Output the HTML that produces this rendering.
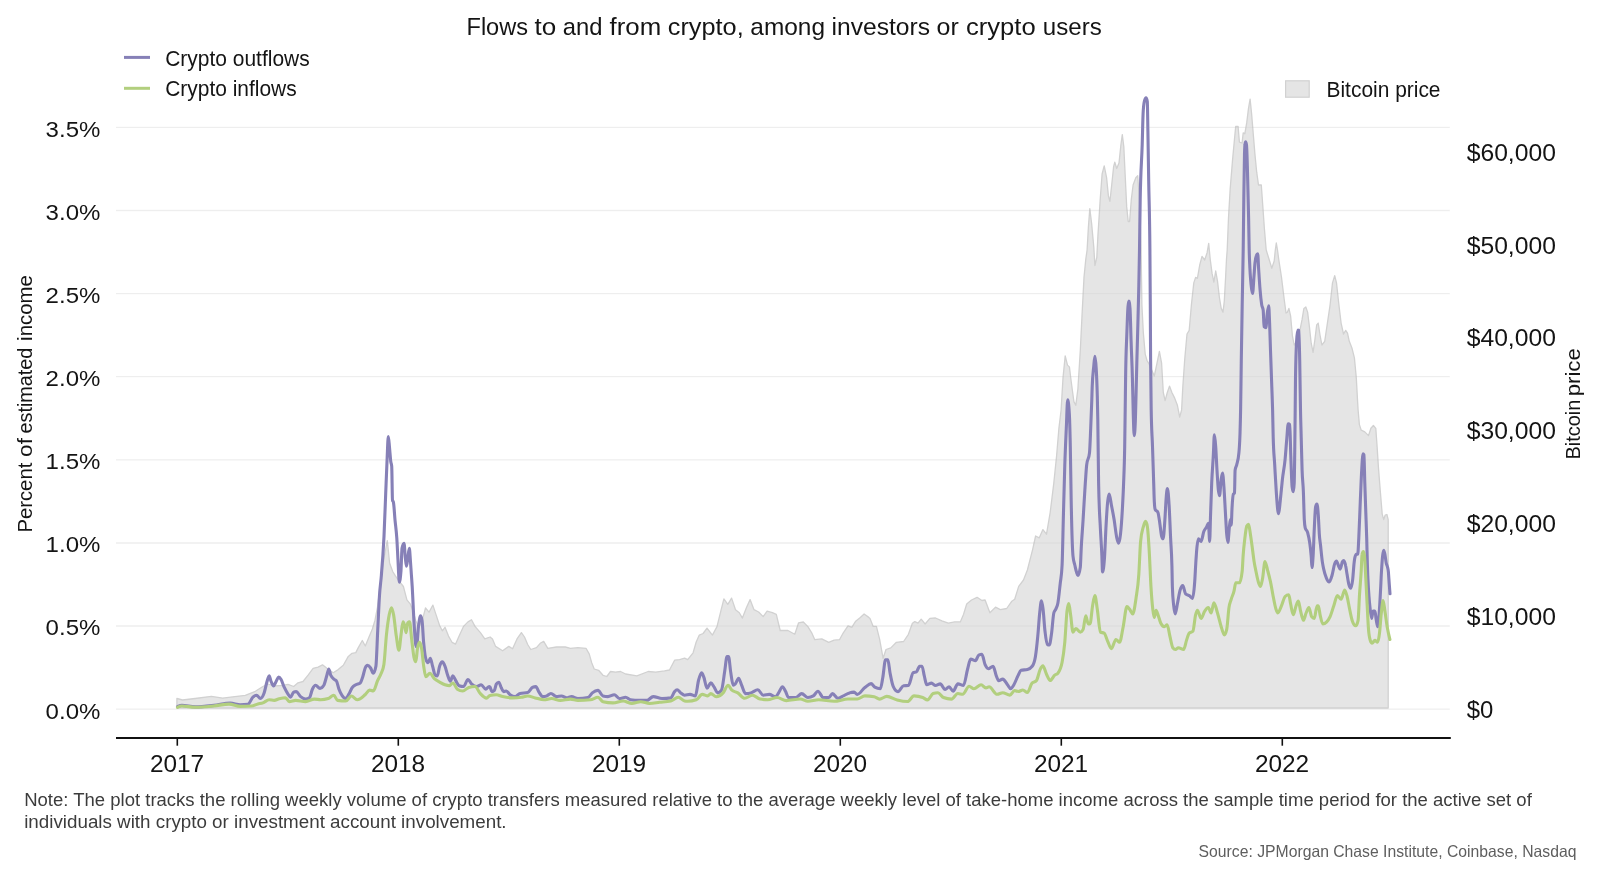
<!DOCTYPE html>
<html lang="en"><head><meta charset="utf-8"><title>Flows to and from crypto</title>
<style>html,body{margin:0;padding:0;background:#fff;}body{width:1600px;height:876px;overflow:hidden;}svg{display:block;}text{font-family:"Liberation Sans",sans-serif;}</style></head><body>
<svg width="1600" height="876" viewBox="0 0 1600 876">
<rect width="1600" height="876" fill="#ffffff"/>
<g stroke="#f5f5f5" stroke-width="1.3">
<line x1="116" y1="127.4" x2="1449.8" y2="127.4"/>
<line x1="116" y1="210.5" x2="1449.8" y2="210.5"/>
<line x1="116" y1="293.6" x2="1449.8" y2="293.6"/>
<line x1="116" y1="376.7" x2="1449.8" y2="376.7"/>
<line x1="116" y1="459.8" x2="1449.8" y2="459.8"/>
<line x1="116" y1="543.0" x2="1449.8" y2="543.0"/>
<line x1="116" y1="626.0" x2="1449.8" y2="626.0"/>
<line x1="116" y1="709.2" x2="1449.8" y2="709.2"/>
</g>
<path d="M176.9,698.5 L182.6,700.0 L195.1,698.5 L211.4,696.3 L222.7,698.1 L232.8,696.8 L245.3,695.3 L255.4,691.3 L262.9,686.5 L268.0,684.0 L274.0,686.0 L283.0,685.3 L288.0,684.3 L293.7,686.5 L298.0,682.8 L303.0,681.5 L308.1,675.2 L313.1,668.3 L318.1,667.1 L322.5,664.8 L326.9,668.3 L333.2,672.7 L338.2,669.6 L343.3,665.2 L348.3,656.4 L352.0,653.3 L355.8,652.6 L358.3,647.6 L362.3,640.5 L365.3,646.0 L369.0,637.0 L372.4,629.0 L375.0,620.2 L377.5,607.0 L380.8,581.0 L384.2,557.0 L387.3,540.6 L388.5,552.0 L389.6,563.0 L392.7,571.5 L395.4,575.9 L399.0,581.0 L403.4,586.5 L406.9,599.8 L410.4,604.2 L413.1,611.3 L415.8,621.0 L419.0,627.0 L422.8,618.4 L425.5,607.8 L429.0,612.2 L432.9,605.1 L436.1,614.9 L439.6,625.5 L442.3,630.8 L445.0,627.3 L448.5,636.1 L452.0,642.3 L455.6,644.1 L459.1,636.1 L463.5,626.4 L468.0,621.9 L471.5,619.8 L475.0,626.4 L480.4,632.6 L484.8,638.8 L490.1,637.0 L492.5,638.9 L495.6,646.4 L502.6,650.8 L508.8,646.4 L512.6,648.7 L517.0,638.9 L521.4,632.6 L524.5,637.0 L527.7,644.5 L530.8,649.5 L536.5,647.7 L540.2,643.3 L543.7,641.4 L547.8,648.3 L556.5,647.0 L565.3,647.0 L570.4,648.3 L577.9,647.7 L586.0,648.3 L589.2,653.9 L591.7,662.7 L594.2,669.0 L598.6,670.3 L603.0,675.3 L606.8,676.5 L610.5,671.5 L615.5,672.1 L620.6,671.5 L625.6,674.0 L636.9,675.9 L648.2,671.5 L655.7,672.1 L664.5,670.9 L669.5,670.0 L674.6,660.2 L679.6,659.6 L684.6,658.2 L687.7,659.7 L693.1,652.8 L696.2,642.0 L699.3,635.1 L703.1,633.5 L707.0,628.1 L712.4,635.1 L717.0,626.6 L720.8,611.2 L723.9,598.9 L727.8,604.3 L731.6,598.1 L735.5,609.7 L739.3,612.7 L742.4,618.1 L746.3,608.1 L750.1,599.6 L754.0,609.7 L758.6,612.0 L763.2,616.6 L767.1,611.2 L772.4,612.7 L776.3,614.3 L780.2,630.5 L787.9,630.5 L794.8,634.3 L798.6,622.8 L803.3,622.0 L807.9,626.6 L811.7,632.8 L814.8,639.7 L821.8,638.9 L828.7,642.3 L834.1,640.2 L839.5,639.7 L843.3,632.8 L848.0,625.8 L851.8,627.4 L855.7,621.2 L860.3,617.4 L864.1,614.0 L868.8,617.4 L870.0,618.4 L873.2,626.4 L876.4,626.4 L879.6,639.1 L883.1,658.3 L886.0,649.5 L890.8,647.9 L896.4,642.3 L903.6,641.5 L908.4,634.3 L912.4,623.2 L914.8,621.6 L918.0,623.2 L921.2,619.2 L925.1,624.0 L929.9,618.4 L935.5,618.0 L941.9,620.8 L948.3,623.2 L954.7,621.9 L960.3,621.9 L963.5,614.4 L966.7,604.0 L971.5,600.0 L977.1,597.3 L981.9,600.5 L985.1,600.0 L989.9,612.8 L995.5,607.2 L1000.3,609.6 L1006.7,608.5 L1011.5,601.6 L1014.7,599.2 L1018.7,586.4 L1023.5,580.0 L1027.4,570.0 L1032.8,548.8 L1035.6,536.0 L1039.2,537.9 L1042.9,529.6 L1046.5,534.2 L1050.2,512.3 L1053.8,483.1 L1056.6,455.7 L1058.9,428.3 L1061.1,410.0 L1063.0,377.9 L1065.2,355.9 L1067.5,365.1 L1069.4,366.9 L1071.2,381.5 L1073.9,401.6 L1075.8,405.3 L1077.9,388.8 L1080.3,350.5 L1082.1,313.9 L1084.0,277.4 L1085.8,259.1 L1087.1,250.0 L1088.4,227.0 L1089.8,208.7 L1091.6,223.3 L1093.8,247.1 L1094.9,265.5 L1096.8,257.3 L1097.9,236.1 L1100.2,199.6 L1102.1,174.0 L1104.2,165.8 L1106.6,177.7 L1108.4,195.9 L1109.9,201.4 L1111.7,185.0 L1113.6,166.7 L1114.8,162.1 L1116.7,168.5 L1119.0,163.1 L1120.9,144.8 L1122.3,134.7 L1123.8,146.6 L1125.3,177.7 L1126.7,206.9 L1128.2,221.5 L1129.6,221.5 L1131.3,199.6 L1133.1,185.0 L1135.8,177.7 L1137.7,175.8 L1139.5,200.0 L1141.1,250.0 L1141.9,304.8 L1143.3,332.2 L1145.2,354.1 L1147.0,360.5 L1149.2,364.2 L1154.3,376.0 L1157.0,363.2 L1159.4,351.4 L1161.6,363.2 L1163.3,392.5 L1165.1,400.7 L1167.3,392.5 L1169.5,386.1 L1171.9,392.5 L1174.6,397.9 L1177.4,405.3 L1179.7,417.0 L1181.6,410.0 L1182.8,387.0 L1184.7,359.6 L1187.0,334.0 L1189.2,330.4 L1191.4,304.8 L1193.8,282.9 L1195.6,277.4 L1197.4,278.3 L1199.8,264.6 L1202.0,256.4 L1204.7,260.0 L1207.1,252.7 L1208.7,243.4 L1210.2,259.1 L1212.1,273.7 L1213.9,282.0 L1215.7,271.0 L1217.5,281.1 L1219.4,297.5 L1221.2,308.4 L1223.0,312.1 L1224.3,301.1 L1225.6,277.4 L1226.5,259.0 L1227.2,250.0 L1228.5,217.9 L1230.2,188.6 L1232.6,159.4 L1234.8,135.7 L1235.7,126.5 L1238.1,126.5 L1239.4,142.1 L1242.1,143.0 L1243.2,132.9 L1244.8,133.8 L1246.7,122.9 L1248.5,108.3 L1250.1,99.1 L1251.6,113.7 L1253.1,132.0 L1254.9,153.9 L1256.7,172.2 L1258.5,185.0 L1261.3,185.0 L1262.6,203.2 L1264.4,228.8 L1266.2,250.0 L1269.6,261.0 L1271.8,268.3 L1274.2,261.0 L1275.3,250.0 L1276.3,243.0 L1277.5,250.0 L1278.7,259.1 L1281.5,277.4 L1284.2,299.3 L1286.0,313.0 L1287.5,312.1 L1288.9,308.4 L1290.6,315.8 L1292.4,335.8 L1294.2,345.0 L1298.0,340.0 L1302.1,319.4 L1303.9,308.4 L1305.8,307.0 L1307.6,312.1 L1309.4,326.7 L1311.2,343.2 L1313.1,352.3 L1314.9,339.5 L1316.7,324.9 L1318.2,323.1 L1320.0,335.0 L1321.9,345.0 L1324.7,341.3 L1327.4,323.1 L1330.1,304.8 L1332.5,282.9 L1334.7,275.6 L1336.5,282.9 L1338.7,303.0 L1341.1,323.1 L1343.5,334.0 L1345.7,330.4 L1347.5,333.1 L1349.3,341.3 L1352.1,348.6 L1354.4,357.8 L1356.3,377.9 L1357.5,399.8 L1358.1,410.0 L1359.4,424.6 L1361.2,430.1 L1364.8,431.9 L1368.5,435.6 L1370.9,428.3 L1373.4,425.5 L1375.8,428.3 L1377.1,446.5 L1378.5,468.4 L1380.4,492.2 L1382.2,514.1 L1383.7,519.6 L1385.2,515.0 L1386.9,514.5 L1388.2,519.6 L1388.2,708.0 L176.9,708.0 Z" fill="#e5e5e5" stroke="#d1d1d1" stroke-width="1.3" stroke-linejoin="round"/>
<g stroke="#000" stroke-opacity="0.028" stroke-width="1.3">
<line x1="116" y1="127.4" x2="1449.8" y2="127.4"/>
<line x1="116" y1="210.5" x2="1449.8" y2="210.5"/>
<line x1="116" y1="293.6" x2="1449.8" y2="293.6"/>
<line x1="116" y1="376.7" x2="1449.8" y2="376.7"/>
<line x1="116" y1="459.8" x2="1449.8" y2="459.8"/>
<line x1="116" y1="543.0" x2="1449.8" y2="543.0"/>
<line x1="116" y1="626.0" x2="1449.8" y2="626.0"/>
<line x1="116" y1="709.2" x2="1449.8" y2="709.2"/>
</g>
<path d="M177.5,706.6 C179.0,706.0 180.4,705.4 181.9,705.4 C186.3,705.4 190.7,706.9 195.1,706.9 C201.4,706.9 207.6,706.1 213.9,705.4 C219.4,704.8 224.8,703.1 230.3,703.1 C233.6,703.1 237.0,704.7 240.3,704.7 C242.8,704.7 245.3,704.6 247.8,704.4 C249.5,704.3 251.2,698.7 252.9,697.2 C254.1,696.1 255.4,695.3 256.6,695.3 C257.9,695.3 259.1,698.5 260.4,698.5 C261.7,698.5 262.9,696.6 264.2,692.8 C265.0,690.3 265.9,685.6 266.7,682.8 C267.5,680.0 268.4,675.9 269.2,675.9 C269.8,675.9 270.5,680.0 271.1,681.5 C271.9,683.5 272.8,685.9 273.6,685.9 C274.4,685.9 275.3,683.0 276.1,681.5 C276.9,680.0 277.8,677.1 278.6,677.1 C279.4,677.1 280.3,678.2 281.1,679.6 C282.1,681.3 283.2,685.0 284.2,687.2 C285.5,689.9 286.7,692.2 288.0,694.1 C288.8,695.3 289.7,697.2 290.5,697.2 C291.6,697.2 292.6,692.7 293.7,692.2 C294.5,691.8 295.4,691.6 296.2,691.6 C297.7,691.6 299.1,695.4 300.6,696.6 C302.3,698.0 303.9,699.1 305.6,699.1 C306.9,699.1 308.1,698.7 309.4,697.8 C310.4,697.1 311.5,691.1 312.5,689.0 C313.5,686.9 314.6,685.3 315.6,685.3 C317.1,685.3 318.5,688.4 320.0,688.4 C321.3,688.4 322.5,687.4 323.8,685.3 C324.8,683.6 325.9,678.6 326.9,675.2 C327.5,673.1 328.2,669.0 328.8,669.0 C329.4,669.0 330.1,673.7 330.7,675.2 C332.0,678.1 333.2,678.5 334.5,679.6 C335.1,680.1 335.8,680.0 336.4,680.9 C337.2,682.0 338.1,686.7 338.9,689.0 C339.9,691.8 341.0,693.8 342.0,695.3 C343.3,697.2 344.5,698.5 345.8,698.5 C346.8,698.5 347.9,695.9 348.9,694.1 C349.9,692.3 351.0,689.3 352.0,687.8 C353.3,685.9 354.5,685.5 355.8,684.7 C357.3,683.8 358.7,684.1 360.2,683.0 C361.0,682.4 361.9,679.5 362.7,677.0 C363.5,674.5 364.4,670.0 365.2,668.0 C365.9,666.3 366.7,665.2 367.4,665.2 C368.5,665.2 369.5,666.4 370.6,668.0 C371.5,669.3 372.4,673.3 373.3,673.3 C374.2,673.3 375.0,670.9 375.9,666.2 C376.5,662.9 377.1,642.6 377.7,630.8 C378.3,619.0 378.9,604.6 379.5,595.4 C380.1,585.7 380.8,582.9 381.4,575.0 C382.3,564.2 383.1,554.6 384.0,536.3 C384.6,524.3 385.1,507.6 385.7,493.5 C386.2,481.9 386.6,469.2 387.1,459.2 C387.5,450.6 387.9,436.6 388.3,436.6 C388.7,436.6 389.1,443.3 389.5,447.3 C389.9,451.6 390.4,458.6 390.8,461.8 C391.1,464.0 391.4,463.2 391.7,466.1 C392.0,468.6 392.2,499.2 392.5,500.3 C392.8,501.5 393.1,500.9 393.4,502.1 C394.0,504.4 394.5,514.9 395.1,520.9 C395.7,526.9 396.2,529.5 396.8,538.0 C397.2,544.0 397.6,553.2 398.0,560.3 C398.4,568.0 398.9,582.1 399.3,582.1 C399.9,582.1 400.4,578.3 401.0,570.6 C401.3,566.1 401.7,550.0 402.0,548.3 C402.7,544.9 403.3,543.2 404.0,543.2 C404.5,543.2 404.9,554.5 405.4,558.6 C405.8,561.8 406.1,566.3 406.5,566.3 C407.0,566.3 407.5,560.0 408.0,556.8 C408.4,554.0 408.9,548.3 409.3,548.3 C409.7,548.3 410.1,556.7 410.5,562.0 C410.8,565.9 411.1,570.7 411.4,575.0 C411.7,578.8 411.9,582.2 412.2,586.5 C412.8,596.1 413.4,612.2 414.0,622.0 C414.6,631.8 415.2,642.4 415.8,645.0 C416.1,646.1 416.3,646.7 416.6,646.7 C417.2,646.7 417.8,632.3 418.4,627.3 C419.1,621.5 419.8,615.8 420.5,615.8 C421.0,615.8 421.5,617.3 422.0,620.2 C422.6,623.5 423.1,637.1 423.7,643.2 C424.6,653.0 425.5,659.0 426.4,660.9 C427.0,662.1 427.5,662.7 428.1,662.7 C428.8,662.7 429.6,658.2 430.3,658.2 C431.1,658.2 431.8,663.6 432.6,666.2 C433.5,669.2 434.3,674.3 435.2,675.0 C435.9,675.6 436.6,675.9 437.3,675.9 C438.1,675.9 438.8,668.5 439.6,666.2 C440.5,663.5 441.4,661.8 442.3,661.8 C443.2,661.8 444.1,663.9 445.0,666.2 C445.9,668.4 446.7,672.5 447.6,675.0 C448.5,677.6 449.4,681.2 450.3,681.2 C451.2,681.2 452.0,675.9 452.9,675.9 C453.8,675.9 454.7,679.0 455.6,680.4 C456.8,682.3 457.9,685.3 459.1,685.7 C460.6,686.2 462.0,686.5 463.5,686.5 C465.0,686.5 466.5,679.5 468.0,679.5 C469.2,679.5 470.3,682.8 471.5,683.9 C473.3,685.6 475.0,686.5 476.8,686.5 C478.3,686.5 479.7,684.8 481.2,684.8 C482.7,684.8 484.2,689.2 485.7,689.2 C486.9,689.2 488.0,686.5 489.2,686.5 C489.5,686.5 489.7,686.7 490.0,687.0 C490.6,687.7 491.3,691.6 491.9,691.6 C492.7,691.6 493.6,691.2 494.4,690.4 C495.0,689.8 495.7,685.1 496.3,684.1 C497.1,682.8 498.0,682.2 498.8,682.2 C499.6,682.2 500.5,686.2 501.3,687.8 C502.1,689.4 503.0,691.6 503.8,691.6 C504.6,691.6 505.5,691.0 506.3,691.0 C507.6,691.0 508.8,693.8 510.1,694.7 C511.8,695.9 513.4,696.6 515.1,696.6 C516.8,696.6 518.4,693.9 520.1,693.5 C522.6,692.9 525.2,693.2 527.7,692.6 C529.4,692.2 531.0,687.8 532.7,687.2 C533.7,686.8 534.8,686.6 535.8,686.6 C536.9,686.6 537.9,690.6 539.0,692.2 C540.2,694.0 541.5,696.6 542.7,696.6 C544.0,696.6 545.2,696.4 546.5,696.0 C548.0,695.5 549.4,693.5 550.9,693.5 C552.8,693.5 554.6,696.6 556.5,696.6 C558.2,696.6 559.9,696.0 561.6,696.0 C563.3,696.0 564.9,697.9 566.6,697.9 C568.3,697.9 569.9,696.6 571.6,696.6 C573.7,696.6 575.8,698.5 577.9,698.5 C581.2,698.5 584.6,698.2 587.9,697.6 C589.4,697.3 590.8,694.1 592.3,692.9 C594.2,691.4 596.1,690.4 598.0,690.4 C599.7,690.4 601.3,695.6 603.0,696.0 C604.7,696.4 606.3,696.6 608.0,696.6 C610.1,696.6 612.2,694.7 614.3,694.7 C616.0,694.7 617.6,698.5 619.3,698.5 C621.4,698.5 623.5,697.3 625.6,697.3 C627.3,697.3 628.9,699.6 630.6,699.8 C633.5,700.2 636.5,700.4 639.4,700.4 C641.9,700.4 644.4,700.4 646.9,700.4 C649.0,700.4 651.1,696.6 653.2,696.6 C656.1,696.6 659.1,698.5 662.0,698.5 C664.9,698.5 667.9,698.3 670.8,697.9 C672.1,697.7 673.3,693.0 674.6,691.6 C675.4,690.7 676.3,689.7 677.1,689.7 C678.3,689.7 679.6,692.0 680.8,692.9 C682.1,693.8 683.3,695.2 684.6,695.2 C686.4,695.2 688.2,694.4 690.0,694.4 C691.8,694.4 693.6,695.9 695.4,695.9 C696.4,695.9 697.5,684.4 698.5,680.5 C699.5,676.6 700.6,672.8 701.6,672.8 C702.4,672.8 703.1,675.4 703.9,677.4 C704.9,680.1 706.0,688.2 707.0,688.2 C708.3,688.2 709.5,682.8 710.8,682.8 C711.8,682.8 712.9,685.2 713.9,686.7 C715.2,688.5 716.5,692.9 717.8,692.9 C719.1,692.9 720.3,691.9 721.6,689.8 C722.6,688.1 723.7,677.7 724.7,671.3 C725.5,666.5 726.2,656.6 727.0,656.6 C727.5,656.6 728.0,656.6 728.5,656.6 C729.3,656.6 730.0,668.1 730.8,672.8 C731.6,677.7 732.4,685.2 733.2,685.2 C734.0,685.2 734.7,684.5 735.5,683.6 C736.5,682.4 737.6,678.2 738.6,678.2 C739.6,678.2 740.6,682.9 741.6,685.2 C742.9,688.1 744.2,693.6 745.5,693.6 C747.3,693.6 749.1,693.4 750.9,692.9 C753.2,692.3 755.5,689.8 757.8,689.8 C759.6,689.8 761.4,695.2 763.2,695.2 C765.3,695.2 767.3,694.4 769.4,694.4 C771.4,694.4 773.5,696.7 775.5,696.7 C776.5,696.7 777.6,694.3 778.6,692.9 C779.9,691.1 781.2,686.7 782.5,686.7 C783.5,686.7 784.5,689.5 785.5,691.3 C786.5,693.1 787.6,697.5 788.6,697.5 C790.9,697.5 793.3,697.5 795.6,697.5 C797.6,697.5 799.7,693.6 801.7,693.6 C803.8,693.6 805.8,697.5 807.9,697.5 C809.7,697.5 811.5,697.0 813.3,695.9 C814.8,695.0 816.4,691.3 817.9,691.3 C819.7,691.3 821.5,697.5 823.3,697.5 C825.1,697.5 826.9,697.5 828.7,697.5 C830.0,697.5 831.2,693.6 832.5,693.6 C834.3,693.6 836.1,698.3 837.9,698.3 C839.7,698.3 841.5,696.7 843.3,695.9 C845.4,694.9 847.4,693.5 849.5,692.9 C851.0,692.4 852.6,692.1 854.1,692.1 C855.1,692.1 856.2,694.4 857.2,694.4 C859.8,694.4 862.3,689.4 864.9,687.5 C867.0,686.0 869.0,683.6 871.1,683.6 C872.3,683.6 873.6,686.4 874.8,687.1 C876.7,688.2 878.5,688.7 880.4,688.7 C881.2,688.7 882.0,681.9 882.8,677.5 C883.7,672.5 884.6,659.9 885.5,659.9 C886.3,659.9 887.1,659.9 887.9,659.9 C888.6,659.9 889.3,668.9 890.0,672.7 C891.1,678.4 892.1,683.9 893.2,686.3 C894.8,689.8 896.4,691.6 898.0,691.6 C899.9,691.6 901.7,686.0 903.6,685.8 C905.2,685.6 906.8,685.7 908.4,685.5 C910.0,685.3 911.6,673.5 913.2,672.7 C914.3,672.2 915.3,672.4 916.4,671.9 C917.5,671.4 918.5,666.3 919.6,666.3 C920.4,666.3 921.2,666.3 922.0,666.3 C922.8,666.3 923.5,672.9 924.3,675.9 C925.1,679.0 925.9,684.7 926.7,684.7 C928.3,684.7 929.9,683.1 931.5,683.1 C932.8,683.1 934.2,685.5 935.5,685.5 C937.1,685.5 938.7,683.9 940.3,683.9 C941.9,683.9 943.5,689.5 945.1,689.5 C946.4,689.5 947.8,686.8 949.1,686.8 C950.4,686.8 951.8,691.1 953.1,691.1 C954.7,691.1 956.3,683.9 957.9,683.9 C959.8,683.9 961.6,685.5 963.5,685.5 C964.8,685.5 966.2,674.3 967.5,669.5 C968.6,665.7 969.6,659.1 970.7,659.1 C972.3,659.1 973.9,660.7 975.5,660.7 C976.6,660.7 977.6,655.6 978.7,655.1 C979.8,654.6 980.8,654.3 981.9,654.3 C983.0,654.3 984.0,662.3 985.1,664.7 C986.2,667.1 987.2,668.7 988.3,668.7 C989.9,668.7 991.5,666.3 993.1,666.3 C994.2,666.3 995.2,673.3 996.3,675.9 C997.1,677.8 997.9,680.7 998.7,680.7 C1000.0,680.7 1001.4,679.1 1002.7,679.1 C1004.3,679.1 1005.9,682.8 1007.5,684.7 C1008.6,686.0 1009.6,688.7 1010.7,688.7 C1011.8,688.7 1012.8,686.5 1013.9,684.7 C1015.2,682.5 1016.6,678.5 1017.9,675.9 C1019.0,673.8 1020.0,670.6 1021.1,670.3 C1023.2,669.8 1025.3,670.0 1027.4,669.5 C1029.0,669.1 1030.6,668.4 1032.2,666.3 C1033.3,664.9 1034.3,663.1 1035.4,656.7 C1036.2,651.9 1037.0,644.3 1037.8,635.9 C1038.5,628.9 1039.1,618.1 1039.8,612.0 C1040.3,607.1 1040.9,600.8 1041.4,600.8 C1041.9,600.8 1042.5,604.7 1043.0,608.8 C1043.7,614.0 1044.3,625.4 1045.0,631.2 C1045.8,638.1 1046.6,644.5 1047.4,644.7 C1048.0,644.8 1048.7,644.9 1049.3,644.9 C1050.1,644.9 1050.8,638.6 1051.6,633.1 C1052.3,627.8 1053.1,615.9 1053.8,613.0 C1054.4,610.5 1055.1,610.8 1055.7,609.3 C1056.4,607.5 1057.2,607.0 1057.9,602.9 C1058.7,598.6 1059.4,590.7 1060.2,583.7 C1060.8,577.9 1061.5,577.5 1062.1,565.0 C1062.5,557.1 1062.9,534.5 1063.3,519.6 C1063.8,501.0 1064.3,480.0 1064.8,464.8 C1065.3,449.6 1065.8,439.4 1066.3,428.3 C1066.8,417.9 1067.2,399.8 1067.7,399.8 C1068.3,399.8 1068.8,404.9 1069.4,415.0 C1069.7,420.4 1070.0,432.1 1070.3,446.5 C1070.6,460.9 1070.9,486.1 1071.2,501.3 C1071.8,531.7 1072.4,550.2 1073.0,556.1 C1073.6,562.0 1074.2,562.3 1074.8,565.0 C1075.4,567.6 1075.9,570.2 1076.5,572.0 C1077.0,573.5 1077.4,575.5 1077.9,575.5 C1078.7,575.5 1079.5,572.8 1080.3,567.3 C1080.6,565.2 1080.9,554.5 1081.2,548.8 C1081.8,536.8 1082.5,529.7 1083.1,519.6 C1083.8,507.9 1084.6,493.7 1085.3,483.1 C1085.8,476.4 1086.2,468.8 1086.7,464.8 C1087.6,456.9 1088.6,460.8 1089.5,452.9 C1089.9,449.5 1090.3,437.6 1090.7,428.3 C1091.1,419.8 1091.4,411.3 1091.8,400.0 C1091.9,395.9 1092.1,390.6 1092.2,387.0 C1092.7,373.6 1093.2,372.3 1093.7,366.9 C1094.1,362.6 1094.5,356.3 1094.9,356.3 C1095.3,356.3 1095.8,361.0 1096.2,368.7 C1096.6,375.3 1096.9,381.2 1097.3,396.1 C1097.5,402.9 1097.6,410.0 1097.8,420.0 C1098.1,435.9 1098.3,469.6 1098.6,483.1 C1099.2,513.5 1099.8,515.8 1100.4,528.7 C1100.9,539.4 1101.4,544.1 1101.9,556.1 C1102.1,560.9 1102.3,571.9 1102.5,571.9 C1103.2,571.9 1103.9,566.6 1104.6,556.1 C1105.0,549.6 1105.5,536.8 1105.9,528.7 C1106.5,517.5 1107.1,507.0 1107.7,501.3 C1108.2,496.5 1108.7,494.0 1109.2,494.0 C1109.9,494.0 1110.7,501.2 1111.4,505.0 C1112.3,509.7 1113.2,514.1 1114.1,519.6 C1115.0,525.1 1115.9,533.9 1116.8,537.9 C1117.4,540.7 1118.1,543.3 1118.7,543.3 C1119.3,543.3 1119.9,539.7 1120.5,534.2 C1121.1,528.7 1121.7,521.2 1122.3,510.5 C1122.7,502.8 1123.2,495.1 1123.6,483.1 C1124.0,472.9 1124.3,468.7 1124.7,446.5 C1124.9,436.4 1125.0,422.8 1125.2,410.0 C1125.3,399.7 1125.5,387.2 1125.6,377.9 C1126.0,347.7 1126.5,344.6 1126.9,332.2 C1127.3,321.7 1127.6,311.1 1128.0,306.6 C1128.3,302.9 1128.6,301.1 1128.9,301.1 C1129.3,301.1 1129.6,303.5 1130.0,308.4 C1130.4,313.3 1130.7,330.6 1131.1,341.3 C1131.5,353.9 1132.0,362.4 1132.4,377.9 C1132.7,388.7 1133.0,405.4 1133.3,415.0 C1133.6,424.6 1133.9,435.6 1134.2,435.6 C1134.6,435.6 1135.0,430.1 1135.4,419.1 C1135.6,413.6 1135.8,403.9 1136.0,396.1 C1136.3,384.3 1136.6,371.2 1136.9,359.6 C1137.2,346.7 1137.6,336.0 1137.9,323.1 C1138.2,311.5 1138.5,300.6 1138.8,286.5 C1139.0,275.5 1139.3,264.5 1139.5,250.0 C1139.7,235.5 1140.0,212.4 1140.2,199.6 C1140.9,163.1 1141.5,166.4 1142.2,144.8 C1142.5,135.1 1142.8,119.8 1143.1,113.7 C1143.5,105.6 1143.9,103.2 1144.3,101.5 C1144.9,99.0 1145.4,97.8 1146.0,97.8 C1146.4,97.8 1146.9,99.0 1147.3,101.5 C1147.5,102.6 1147.7,120.0 1147.9,131.0 C1148.2,145.7 1148.4,165.1 1148.7,181.3 C1149.1,205.6 1149.5,204.2 1149.9,250.0 C1150.0,265.3 1150.2,283.1 1150.3,304.8 C1150.4,321.1 1150.5,344.6 1150.6,359.6 C1150.8,389.6 1151.0,398.8 1151.2,410.0 C1151.6,434.3 1152.1,433.8 1152.5,446.5 C1152.9,458.2 1153.3,470.9 1153.7,483.1 C1153.9,489.2 1154.1,497.7 1154.3,501.3 C1154.6,506.8 1154.9,508.9 1155.2,509.5 C1156.1,511.4 1157.0,510.4 1157.9,512.3 C1158.5,513.6 1159.2,519.1 1159.8,523.2 C1160.4,527.1 1161.0,533.8 1161.6,536.0 C1162.1,537.9 1162.6,538.8 1163.1,538.8 C1163.7,538.8 1164.3,528.2 1164.9,519.6 C1165.3,513.4 1165.8,502.9 1166.2,497.7 C1166.6,492.9 1167.0,488.5 1167.4,488.5 C1168.0,488.5 1168.5,495.8 1169.1,505.0 C1169.6,513.1 1170.1,527.2 1170.6,537.9 C1171.0,547.2 1171.5,548.9 1171.9,565.3 C1172.1,571.6 1172.2,582.7 1172.4,587.4 C1172.8,599.6 1173.3,601.3 1173.7,605.7 C1174.2,610.7 1174.7,613.9 1175.2,613.9 C1175.9,613.9 1176.7,607.3 1177.4,603.8 C1178.3,599.5 1179.2,593.1 1180.1,590.1 C1181.0,587.1 1181.9,585.6 1182.8,585.6 C1183.7,585.6 1184.7,592.9 1185.6,593.8 C1186.8,595.0 1188.0,594.8 1189.2,595.6 C1190.3,596.4 1191.4,598.4 1192.5,598.4 C1193.2,598.4 1194.0,592.1 1194.7,581.9 C1195.1,576.8 1195.4,568.8 1195.8,563.0 C1196.0,559.3 1196.3,555.5 1196.5,552.5 C1197.1,544.3 1197.8,538.8 1198.4,538.8 C1199.3,538.8 1200.2,541.5 1201.1,541.5 C1202.0,541.5 1202.9,533.9 1203.8,531.5 C1204.7,529.0 1205.7,528.7 1206.6,526.9 C1207.2,525.8 1207.8,523.2 1208.4,523.2 C1208.8,523.2 1209.3,541.5 1209.7,541.5 C1209.9,541.5 1210.2,526.6 1210.4,519.6 C1210.8,506.5 1211.3,493.1 1211.7,483.1 C1212.2,470.7 1212.8,465.5 1213.3,455.7 C1213.7,449.0 1214.0,434.7 1214.4,434.7 C1214.8,434.7 1215.3,440.6 1215.7,446.5 C1216.1,452.4 1216.6,463.2 1217.0,470.3 C1217.5,478.0 1217.9,486.2 1218.4,490.4 C1218.8,493.7 1219.1,495.8 1219.5,495.8 C1220.1,495.8 1220.6,483.3 1221.2,479.4 C1221.7,476.2 1222.1,473.0 1222.6,473.0 C1223.0,473.0 1223.5,480.8 1223.9,486.7 C1224.4,493.5 1224.9,503.8 1225.4,512.3 C1225.8,519.6 1226.3,529.2 1226.7,534.2 C1227.1,538.9 1227.5,542.4 1227.9,542.4 C1228.4,542.4 1228.9,531.0 1229.4,526.9 C1229.8,523.9 1230.1,519.6 1230.5,519.6 C1230.7,519.6 1231.0,525.1 1231.2,525.1 C1231.5,525.1 1231.8,511.6 1232.1,506.8 C1232.5,499.8 1233.0,494.7 1233.4,494.0 C1233.8,493.4 1234.1,493.7 1234.5,493.1 C1234.7,492.8 1234.9,471.7 1235.1,470.3 C1235.6,466.6 1236.2,467.1 1236.7,464.8 C1237.4,461.7 1238.2,460.8 1238.9,452.9 C1239.3,448.9 1239.6,445.3 1240.0,433.7 C1240.2,427.4 1240.4,420.9 1240.6,410.0 C1240.8,397.3 1241.1,375.3 1241.3,359.6 C1241.6,339.5 1241.9,322.2 1242.2,304.8 C1242.5,285.5 1242.9,274.4 1243.2,250.0 C1243.4,235.4 1243.6,214.7 1243.8,199.6 C1244.0,182.0 1244.3,162.6 1244.5,153.9 C1244.7,147.7 1244.8,145.9 1245.0,144.6 C1245.2,142.7 1245.5,141.8 1245.7,141.8 C1246.0,141.8 1246.2,142.9 1246.5,145.0 C1246.8,147.7 1247.2,160.9 1247.5,172.2 C1247.9,184.7 1248.2,199.8 1248.6,217.9 C1248.8,227.8 1249.0,241.8 1249.2,250.0 C1249.4,259.5 1249.7,263.2 1249.9,268.3 C1250.4,278.5 1250.8,282.3 1251.3,286.5 C1251.7,290.4 1252.2,293.5 1252.6,293.5 C1253.0,293.5 1253.5,283.0 1253.9,277.4 C1254.3,272.7 1254.6,266.4 1255.0,262.8 C1255.5,258.3 1255.9,256.8 1256.4,255.5 C1256.8,254.3 1257.3,253.7 1257.7,253.7 C1258.0,253.7 1258.3,263.6 1258.6,268.3 C1259.1,276.1 1259.6,284.2 1260.1,290.2 C1260.6,296.6 1261.2,301.4 1261.7,304.8 C1262.2,308.0 1262.7,306.6 1263.2,310.3 C1263.5,312.5 1263.8,326.4 1264.1,326.7 C1264.7,327.3 1265.3,327.6 1265.9,327.6 C1266.3,327.6 1266.8,317.4 1267.2,313.9 C1267.7,309.8 1268.2,305.7 1268.7,305.7 C1269.0,305.7 1269.3,315.6 1269.6,323.1 C1269.9,330.6 1270.2,341.7 1270.5,350.5 C1270.9,363.3 1271.4,374.7 1271.8,387.0 C1272.1,394.6 1272.3,399.8 1272.6,410.0 C1272.8,417.7 1273.0,430.1 1273.2,437.4 C1273.7,455.7 1274.2,455.9 1274.7,464.8 C1275.2,474.2 1275.8,484.4 1276.3,492.2 C1276.8,499.5 1277.3,507.1 1277.8,510.5 C1278.1,512.5 1278.4,513.7 1278.7,513.7 C1279.2,513.7 1279.7,505.8 1280.2,501.3 C1280.9,494.7 1281.7,485.9 1282.4,479.4 C1283.3,471.5 1284.2,468.5 1285.1,459.3 C1285.7,453.1 1286.3,444.1 1286.9,437.4 C1287.3,432.5 1287.8,423.7 1288.2,423.7 C1288.7,423.7 1289.2,424.0 1289.7,424.6 C1290.1,425.0 1290.4,446.1 1290.8,455.7 C1291.2,467.1 1291.7,482.7 1292.1,486.7 C1292.5,490.1 1292.8,491.8 1293.2,491.8 C1293.5,491.8 1293.9,488.9 1294.2,483.1 C1294.4,479.6 1294.6,462.3 1294.8,446.5 C1294.9,435.9 1295.1,423.4 1295.2,410.0 C1295.3,400.0 1295.4,384.6 1295.5,377.9 C1295.9,353.5 1296.2,347.7 1296.6,341.3 C1297.0,333.8 1297.5,330.0 1297.9,330.0 C1298.2,330.0 1298.5,330.1 1298.8,330.4 C1299.1,330.7 1299.4,345.0 1299.7,359.6 C1300.0,372.6 1300.2,396.6 1300.5,410.0 C1300.7,421.7 1301.0,428.5 1301.2,437.4 C1301.5,448.8 1301.8,461.8 1302.1,470.3 C1302.5,482.6 1303.0,481.4 1303.4,492.2 C1303.7,499.7 1304.0,514.1 1304.3,519.6 C1304.6,525.1 1304.9,526.6 1305.2,527.8 C1306.0,530.9 1306.8,529.6 1307.6,532.4 C1308.3,535.0 1309.1,537.8 1309.8,543.3 C1310.3,546.8 1310.7,550.3 1311.2,556.1 C1311.5,559.4 1311.7,567.5 1312.0,567.5 C1312.4,567.5 1312.7,562.1 1313.1,556.1 C1313.5,549.6 1313.9,536.7 1314.3,528.7 C1314.7,520.1 1315.2,508.6 1315.6,506.8 C1316.0,505.0 1316.5,504.1 1316.9,504.1 C1317.4,504.1 1317.8,508.3 1318.3,515.0 C1318.6,519.8 1319.0,529.3 1319.3,534.2 C1319.7,540.0 1320.1,541.4 1320.5,545.0 C1321.1,550.5 1321.7,557.4 1322.3,561.6 C1322.8,564.9 1323.2,566.9 1323.7,569.1 C1324.6,573.5 1325.6,576.2 1326.5,578.3 C1327.4,580.4 1328.3,581.9 1329.2,581.9 C1330.1,581.9 1331.1,578.6 1332.0,575.5 C1332.9,572.5 1333.8,566.1 1334.7,563.7 C1335.3,562.1 1335.9,561.0 1336.5,561.0 C1337.1,561.0 1337.8,564.1 1338.4,565.5 C1339.0,566.8 1339.6,569.1 1340.2,569.1 C1340.9,569.1 1341.7,563.2 1342.4,561.8 C1342.9,560.9 1343.3,560.5 1343.8,560.5 C1344.4,560.5 1345.1,563.0 1345.7,566.0 C1346.2,568.2 1346.6,571.8 1347.1,574.6 C1347.7,578.1 1348.3,582.4 1348.9,584.7 C1349.5,587.1 1350.2,588.3 1350.8,588.3 C1351.4,588.3 1352.0,585.0 1352.6,580.1 C1353.1,575.8 1353.7,566.3 1354.2,562.0 C1354.4,560.4 1354.6,558.9 1354.8,557.9 C1355.3,555.5 1355.8,554.3 1356.3,554.3 C1356.8,554.3 1357.2,554.3 1357.7,554.3 C1358.1,554.3 1358.4,544.8 1358.8,537.9 C1359.3,528.4 1359.8,512.9 1360.3,501.3 C1360.8,490.5 1361.2,478.3 1361.7,470.3 C1362.1,462.8 1362.6,453.8 1363.0,453.8 C1363.3,453.8 1363.6,454.1 1363.9,454.7 C1364.2,455.3 1364.5,474.0 1364.8,483.1 C1365.1,493.2 1365.5,502.7 1365.8,512.3 C1366.1,520.9 1366.4,527.6 1366.7,537.9 C1366.9,545.9 1367.2,557.6 1367.4,565.0 C1367.6,570.3 1367.7,574.4 1367.9,578.3 C1368.3,586.9 1368.6,591.4 1369.0,596.5 C1369.4,602.5 1369.9,606.6 1370.3,610.2 C1370.7,613.9 1371.2,618.4 1371.6,618.4 C1372.1,618.4 1372.6,611.1 1373.1,611.1 C1373.7,611.1 1374.3,611.1 1374.9,611.1 C1375.4,611.1 1375.8,617.8 1376.3,620.3 C1376.8,623.0 1377.3,626.7 1377.8,626.7 C1378.2,626.7 1378.7,620.4 1379.1,614.8 C1379.5,609.2 1380.0,600.9 1380.4,592.9 C1380.8,586.1 1381.1,577.1 1381.5,571.0 C1381.9,564.9 1382.2,559.5 1382.6,556.1 C1383.0,552.6 1383.3,550.3 1383.7,550.3 C1384.1,550.3 1384.5,552.3 1384.9,554.3 C1385.3,556.4 1385.8,560.9 1386.2,563.0 C1386.6,565.1 1387.1,565.0 1387.5,567.0 C1387.8,568.4 1388.1,568.9 1388.4,572.0 C1388.6,574.4 1388.9,578.7 1389.1,581.9 C1389.4,586.0 1389.7,589.9 1390.0,593.8" fill="none" stroke="#8680b7" stroke-width="3.1" stroke-linejoin="round" stroke-linecap="round"/>
<path d="M177.5,707.3 C179.0,706.6 180.4,706.0 181.9,706.0 C186.3,706.0 190.7,707.3 195.1,707.3 C201.4,707.3 207.6,706.6 213.9,706.0 C218.9,705.5 224.0,704.1 229.0,704.1 C232.8,704.1 236.5,706.4 240.3,706.4 C244.1,706.4 247.8,706.3 251.6,706.0 C253.7,705.9 255.8,704.4 257.9,703.9 C259.6,703.5 261.2,703.5 262.9,702.9 C265.0,702.2 267.1,699.7 269.2,699.7 C270.9,699.7 272.5,700.4 274.2,700.4 C275.9,700.4 277.5,699.2 279.2,698.8 C281.3,698.3 283.4,697.8 285.5,697.8 C286.8,697.8 288.0,701.6 289.3,701.6 C291.4,701.6 293.5,700.4 295.6,700.4 C298.9,700.4 302.3,701.6 305.6,701.6 C308.5,701.6 311.5,699.1 314.4,699.1 C316.5,699.1 318.6,699.7 320.7,699.7 C323.2,699.7 325.7,699.3 328.2,698.5 C330.1,697.9 331.9,695.3 333.8,695.3 C335.1,695.3 336.3,700.2 337.6,700.4 C340.3,700.8 343.1,701.0 345.8,701.0 C347.7,701.0 349.5,696.0 351.4,696.0 C353.3,696.0 355.2,699.7 357.1,699.7 C358.1,699.7 359.0,699.4 360.0,698.9 C361.8,698.1 363.5,696.1 365.3,694.5 C366.8,693.1 368.2,690.1 369.7,690.1 C370.9,690.1 372.1,691.0 373.3,691.0 C374.8,691.0 376.2,683.6 377.7,680.4 C378.9,677.8 380.0,676.5 381.2,673.3 C382.1,670.8 383.0,670.3 383.9,664.4 C384.8,658.7 385.6,642.5 386.5,634.3 C387.4,625.8 388.3,619.4 389.2,614.9 C390.0,611.1 390.7,607.8 391.5,607.8 C392.2,607.8 392.9,611.2 393.6,614.9 C394.5,619.7 395.4,630.1 396.3,636.1 C397.2,641.8 398.0,650.3 398.9,650.3 C399.6,650.3 400.4,639.3 401.1,634.3 C401.7,629.9 402.4,621.9 403.0,621.9 C403.5,621.9 404.1,623.5 404.6,625.5 C405.1,627.3 405.5,632.6 406.0,632.6 C406.6,632.6 407.2,623.4 407.8,622.8 C408.4,622.2 409.0,621.9 409.6,621.9 C410.3,621.9 411.0,633.9 411.7,639.6 C412.5,645.8 413.2,653.6 414.0,657.3 C414.6,660.2 415.2,661.8 415.8,661.8 C416.4,661.8 416.9,651.7 417.5,648.5 C418.2,644.5 418.9,642.3 419.6,642.3 C420.3,642.3 420.9,644.7 421.6,648.5 C422.3,652.5 423.0,661.5 423.7,666.2 C424.4,670.9 425.1,676.8 425.8,676.8 C427.2,676.8 428.5,673.3 429.9,673.3 C431.4,673.3 432.8,677.2 434.3,678.6 C436.1,680.3 437.8,681.1 439.6,682.1 C441.4,683.1 443.2,684.2 445.0,684.8 C446.5,685.3 447.9,685.7 449.4,685.7 C450.6,685.7 451.7,683.0 452.9,683.0 C454.4,683.0 455.8,688.2 457.3,689.2 C459.1,690.4 460.9,691.0 462.7,691.0 C464.7,691.0 466.8,688.0 468.8,687.4 C470.9,686.8 472.9,686.5 475.0,686.5 C476.8,686.5 478.6,691.7 480.4,693.6 C482.4,695.7 484.5,698.1 486.5,698.1 C487.7,698.1 488.8,695.7 490.0,695.4 C492.1,694.9 494.2,694.7 496.3,694.7 C498.4,694.7 500.5,696.1 502.6,696.6 C505.9,697.4 509.3,697.9 512.6,697.9 C515.5,697.9 518.5,697.7 521.4,697.3 C523.5,697.0 525.6,696.0 527.7,696.0 C530.2,696.0 532.7,697.3 535.2,697.9 C538.1,698.6 541.1,699.8 544.0,699.8 C546.5,699.8 549.0,698.5 551.5,698.5 C554.4,698.5 557.4,700.4 560.3,700.4 C563.7,700.4 567.0,699.1 570.4,699.1 C572.9,699.1 575.4,700.4 577.9,700.4 C582.1,700.4 586.2,700.2 590.4,699.8 C592.9,699.6 595.5,697.3 598.0,697.3 C599.7,697.3 601.3,701.3 603.0,701.7 C606.3,702.5 609.7,702.9 613.0,702.9 C616.4,702.9 619.7,701.0 623.1,701.0 C626.0,701.0 629.0,703.5 631.9,703.5 C634.8,703.5 637.8,701.7 640.7,701.7 C643.6,701.7 646.6,703.5 649.5,703.5 C652.8,703.5 656.2,702.7 659.5,702.3 C663.3,701.9 667.0,701.9 670.8,701.0 C673.3,700.4 675.8,697.3 678.3,697.3 C680.4,697.3 682.5,700.6 684.6,701.0 C685.6,701.2 686.7,701.3 687.7,701.3 C690.5,701.3 693.4,700.8 696.2,699.8 C698.2,699.1 700.3,694.4 702.3,694.4 C704.1,694.4 705.9,695.9 707.7,695.9 C708.7,695.9 709.8,693.6 710.8,693.6 C712.6,693.6 714.4,696.7 716.2,696.7 C718.5,696.7 720.8,695.4 723.1,692.9 C724.8,691.1 726.4,685.2 728.1,685.2 C729.3,685.2 730.4,688.6 731.6,689.8 C733.7,691.9 735.7,691.6 737.8,692.9 C740.1,694.4 742.4,698.3 744.7,698.3 C747.3,698.3 749.8,695.2 752.4,695.2 C755.0,695.2 757.5,698.5 760.1,699.0 C762.7,699.5 765.2,699.8 767.8,699.8 C770.9,699.8 774.0,697.5 777.1,697.5 C780.2,697.5 783.2,700.6 786.3,700.6 C790.9,700.6 795.6,699.0 800.2,699.0 C802.8,699.0 805.3,701.3 807.9,701.3 C811.5,701.3 815.1,699.8 818.7,699.8 C823.8,699.8 829.0,701.3 834.1,701.3 C838.7,701.3 843.4,699.0 848.0,699.0 C851.1,699.0 854.1,699.0 857.2,699.0 C859.8,699.0 862.3,695.9 864.9,695.9 C868.0,695.9 871.1,696.2 874.2,696.7 C876.0,697.0 877.8,699.1 879.6,699.1 C882.0,699.1 884.4,696.4 886.8,696.4 C890.3,696.4 893.7,699.0 897.2,699.9 C900.7,700.8 904.1,701.5 907.6,701.5 C909.7,701.5 911.9,695.9 914.0,695.9 C916.9,695.9 919.8,696.4 922.7,697.5 C924.3,698.1 925.9,699.9 927.5,699.9 C929.4,699.9 931.2,694.1 933.1,693.5 C934.7,693.0 936.3,692.7 937.9,692.7 C939.8,692.7 941.6,696.8 943.5,697.5 C946.2,698.6 948.8,699.1 951.5,699.1 C953.6,699.1 955.8,693.5 957.9,693.5 C959.5,693.5 961.1,694.3 962.7,694.3 C964.8,694.3 967.0,686.3 969.1,686.3 C970.7,686.3 972.3,688.7 973.9,688.7 C976.3,688.7 978.7,684.7 981.1,684.7 C982.7,684.7 984.3,687.9 985.9,687.9 C987.0,687.9 988.0,686.8 989.1,686.8 C991.8,686.8 994.4,694.3 997.1,694.3 C999.0,694.3 1000.8,692.7 1002.7,692.7 C1005.1,692.7 1007.5,695.1 1009.9,695.1 C1011.5,695.1 1013.0,690.6 1014.6,690.6 C1015.8,690.6 1017.0,691.5 1018.2,691.5 C1019.7,691.5 1021.3,690.0 1022.8,690.0 C1024.3,690.0 1025.9,692.4 1027.4,692.4 C1028.9,692.4 1030.4,685.1 1031.9,683.3 C1033.4,681.4 1035.0,682.4 1036.5,680.5 C1037.7,679.0 1038.9,672.1 1040.1,669.6 C1041.0,667.7 1042.0,665.9 1042.9,665.9 C1044.1,665.9 1045.3,671.8 1046.5,674.2 C1047.7,676.7 1049.0,680.5 1050.2,680.5 C1051.7,680.5 1053.2,676.4 1054.7,675.1 C1055.8,674.2 1056.8,674.5 1057.9,673.2 C1059.3,671.5 1060.7,669.6 1062.1,662.3 C1063.0,657.6 1063.9,652.2 1064.8,642.2 C1065.5,634.0 1066.3,617.3 1067.0,611.1 C1067.6,606.0 1068.2,603.5 1068.8,603.5 C1069.4,603.5 1070.0,610.8 1070.6,614.8 C1071.4,620.1 1072.2,632.1 1073.0,632.1 C1073.9,632.1 1074.9,628.5 1075.8,628.5 C1077.3,628.5 1078.8,632.1 1080.3,632.1 C1081.2,632.1 1082.2,631.2 1083.1,629.4 C1084.0,627.7 1084.9,615.7 1085.8,615.7 C1086.6,615.7 1087.4,623.9 1088.2,623.9 C1088.8,623.9 1089.4,623.9 1090.0,623.9 C1090.9,623.9 1091.7,610.6 1092.6,605.7 C1093.4,601.4 1094.1,595.6 1094.9,595.6 C1095.7,595.6 1096.5,604.2 1097.3,609.3 C1098.3,615.9 1099.4,631.5 1100.4,632.1 C1101.6,632.8 1102.9,632.4 1104.1,633.1 C1105.3,633.7 1106.5,638.7 1107.7,641.3 C1108.9,643.9 1110.2,648.6 1111.4,648.6 C1112.9,648.6 1114.4,639.5 1115.9,639.5 C1117.1,639.5 1118.4,642.2 1119.6,642.2 C1120.8,642.2 1122.0,632.5 1123.2,626.7 C1124.4,620.7 1125.7,606.6 1126.9,606.6 C1127.8,606.6 1128.7,608.2 1129.6,609.3 C1130.6,610.6 1131.7,613.9 1132.7,613.9 C1133.8,613.9 1134.9,605.8 1136.0,598.4 C1136.9,592.1 1137.9,588.2 1138.8,574.6 C1139.4,565.9 1140.0,548.0 1140.6,541.5 C1141.5,531.8 1142.4,530.3 1143.3,526.9 C1144.0,524.1 1144.8,521.4 1145.5,521.4 C1146.1,521.4 1146.8,523.2 1147.4,526.9 C1148.0,530.4 1148.6,540.5 1149.2,550.6 C1149.8,560.7 1150.4,577.6 1151.0,587.4 C1151.6,597.2 1152.2,604.2 1152.8,609.3 C1153.3,613.6 1153.8,617.5 1154.3,617.5 C1154.9,617.5 1155.5,610.2 1156.1,610.2 C1156.8,610.2 1157.6,613.7 1158.3,615.7 C1159.1,617.9 1159.9,621.4 1160.7,623.0 C1161.9,625.5 1163.1,626.7 1164.3,626.7 C1165.2,626.7 1166.2,624.8 1167.1,624.8 C1168.1,624.8 1169.0,632.8 1170.0,636.7 C1170.9,640.4 1171.9,646.5 1172.8,647.7 C1173.7,648.9 1174.6,649.5 1175.5,649.5 C1176.4,649.5 1177.4,647.7 1178.3,647.7 C1180.1,647.7 1181.9,649.5 1183.7,649.5 C1184.6,649.5 1185.6,643.2 1186.5,640.4 C1187.4,637.7 1188.3,634.0 1189.2,633.1 C1190.4,631.8 1191.7,632.5 1192.9,631.2 C1193.8,630.3 1194.7,618.4 1195.6,614.8 C1196.2,612.4 1196.8,610.2 1197.4,610.2 C1198.6,610.2 1199.9,618.4 1201.1,618.4 C1202.3,618.4 1203.5,612.9 1204.7,611.1 C1205.9,609.2 1207.2,607.5 1208.4,607.5 C1209.3,607.5 1210.2,613.0 1211.1,613.0 C1212.0,613.0 1213.0,602.9 1213.9,602.9 C1215.1,602.9 1216.3,609.1 1217.5,613.0 C1218.7,617.0 1220.0,622.8 1221.2,626.7 C1222.2,629.9 1223.3,634.9 1224.3,634.9 C1225.1,634.9 1225.9,633.1 1226.7,629.4 C1227.5,625.9 1228.2,612.5 1229.0,607.5 C1229.7,602.7 1230.5,601.8 1231.2,599.3 C1232.1,596.1 1233.1,594.8 1234.0,591.1 C1234.6,588.7 1235.2,582.8 1235.8,582.8 C1237.0,582.8 1238.3,582.8 1239.5,582.8 C1240.4,582.8 1241.3,578.9 1242.2,571.0 C1242.5,568.4 1242.8,560.4 1243.1,556.1 C1243.7,547.5 1244.3,542.8 1244.9,537.9 C1245.5,532.7 1246.2,527.3 1246.8,526.0 C1247.4,524.8 1248.0,524.2 1248.6,524.2 C1249.2,524.2 1249.8,530.4 1250.4,534.2 C1251.0,538.0 1251.6,542.6 1252.2,547.0 C1252.8,551.7 1253.5,557.5 1254.1,561.6 C1254.7,565.5 1255.3,568.1 1255.9,571.0 C1256.8,575.4 1257.7,580.1 1258.6,582.8 C1259.2,584.7 1259.9,586.5 1260.5,586.5 C1261.2,586.5 1261.9,582.0 1262.6,578.3 C1263.4,574.0 1264.2,561.5 1265.0,561.5 C1265.9,561.5 1266.9,567.5 1267.8,571.0 C1268.7,574.3 1269.6,577.6 1270.5,581.9 C1271.4,586.1 1272.3,592.0 1273.2,596.5 C1274.1,601.2 1275.1,606.5 1276.0,609.3 C1276.6,611.1 1277.2,613.0 1277.8,613.0 C1279.0,613.0 1280.3,608.5 1281.5,605.7 C1282.7,603.0 1283.9,597.7 1285.1,596.5 C1286.3,595.3 1287.6,594.7 1288.8,594.7 C1289.4,594.7 1290.0,601.0 1290.6,603.8 C1291.5,608.0 1292.4,614.8 1293.3,614.8 C1294.2,614.8 1295.2,608.1 1296.1,605.7 C1296.9,603.7 1297.6,601.1 1298.4,601.1 C1299.1,601.1 1299.9,608.2 1300.6,611.1 C1301.5,614.8 1302.5,620.3 1303.4,620.3 C1304.3,620.3 1305.2,615.1 1306.1,613.0 C1307.0,610.8 1308.0,607.5 1308.9,607.5 C1309.8,607.5 1310.7,615.4 1311.6,616.6 C1312.5,617.8 1313.4,618.4 1314.3,618.4 C1315.2,618.4 1316.2,605.7 1317.1,605.7 C1317.5,605.7 1317.9,605.7 1318.3,605.7 C1318.9,605.7 1319.5,612.2 1320.1,614.8 C1321.0,618.7 1321.9,623.9 1322.8,623.9 C1324.0,623.9 1325.3,623.3 1326.5,622.1 C1327.7,620.9 1328.9,619.3 1330.1,616.6 C1331.3,613.9 1332.6,609.2 1333.8,605.7 C1335.0,602.3 1336.2,595.6 1337.4,595.6 C1338.6,595.6 1339.9,599.3 1341.1,599.3 C1342.3,599.3 1343.5,590.1 1344.7,590.1 C1345.5,590.1 1346.3,593.4 1347.1,596.5 C1347.8,599.3 1348.6,604.0 1349.3,607.5 C1350.2,612.0 1351.2,617.4 1352.1,620.3 C1353.3,624.0 1354.5,625.8 1355.7,625.8 C1356.5,625.8 1357.3,624.0 1358.1,620.3 C1358.5,618.3 1359.0,603.7 1359.4,596.5 C1360.0,586.6 1360.6,581.3 1361.2,571.0 C1361.5,565.9 1361.8,555.5 1362.1,554.3 C1362.5,552.5 1363.0,551.6 1363.4,551.6 C1363.8,551.6 1364.1,553.1 1364.5,556.1 C1364.9,559.6 1365.4,570.4 1365.8,578.3 C1366.3,586.8 1366.7,596.9 1367.2,605.7 C1367.6,613.9 1368.1,624.1 1368.5,629.4 C1369.1,636.7 1369.7,638.6 1370.3,640.4 C1370.9,642.2 1371.5,643.1 1372.1,643.1 C1373.0,643.1 1374.0,640.4 1374.9,640.4 C1375.8,640.4 1376.7,642.2 1377.6,642.2 C1378.2,642.2 1378.9,638.2 1379.5,633.1 C1380.1,628.3 1380.7,618.4 1381.3,613.0 C1381.9,607.6 1382.5,600.5 1383.1,600.5 C1383.7,600.5 1384.3,607.3 1384.9,611.1 C1385.7,616.1 1386.5,623.0 1387.3,627.6 C1388.2,632.6 1389.0,636.1 1389.9,639.5" fill="none" stroke="#b2cf7e" stroke-width="3.1" stroke-linejoin="round" stroke-linecap="round"/>
<line x1="116" y1="738" x2="1450.8" y2="738" stroke="#111" stroke-width="1.8"/>
<g stroke="#111" stroke-width="1.6">
<line x1="177.3" y1="738" x2="177.3" y2="745.7"/>
<line x1="398.3" y1="738" x2="398.3" y2="745.7"/>
<line x1="619.3" y1="738" x2="619.3" y2="745.7"/>
<line x1="840.3" y1="738" x2="840.3" y2="745.7"/>
<line x1="1061.3" y1="738" x2="1061.3" y2="745.7"/>
<line x1="1282.3" y1="738" x2="1282.3" y2="745.7"/>
</g>
<g opacity="0.999">
<text x="149.9" y="772.1" font-size="23.2" text-anchor="start" fill="#141414" textLength="54.2" lengthAdjust="spacingAndGlyphs">2017</text>
<text x="370.9" y="772.1" font-size="23.2" text-anchor="start" fill="#141414" textLength="54.2" lengthAdjust="spacingAndGlyphs">2018</text>
<text x="591.9" y="772.1" font-size="23.2" text-anchor="start" fill="#141414" textLength="54.2" lengthAdjust="spacingAndGlyphs">2019</text>
<text x="812.9" y="772.1" font-size="23.2" text-anchor="start" fill="#141414" textLength="54.2" lengthAdjust="spacingAndGlyphs">2020</text>
<text x="1033.9" y="772.1" font-size="23.2" text-anchor="start" fill="#141414" textLength="54.2" lengthAdjust="spacingAndGlyphs">2021</text>
<text x="1254.9" y="772.1" font-size="23.2" text-anchor="start" fill="#141414" textLength="54.2" lengthAdjust="spacingAndGlyphs">2022</text>
<text x="45.6" y="136.7" font-size="22.9" text-anchor="start" fill="#141414" textLength="54.8" lengthAdjust="spacingAndGlyphs">3.5%</text>
<text x="45.6" y="219.8" font-size="22.9" text-anchor="start" fill="#141414" textLength="54.8" lengthAdjust="spacingAndGlyphs">3.0%</text>
<text x="45.6" y="302.9" font-size="22.9" text-anchor="start" fill="#141414" textLength="54.8" lengthAdjust="spacingAndGlyphs">2.5%</text>
<text x="45.6" y="386.0" font-size="22.9" text-anchor="start" fill="#141414" textLength="54.8" lengthAdjust="spacingAndGlyphs">2.0%</text>
<text x="45.6" y="469.1" font-size="22.9" text-anchor="start" fill="#141414" textLength="54.8" lengthAdjust="spacingAndGlyphs">1.5%</text>
<text x="45.6" y="552.3" font-size="22.9" text-anchor="start" fill="#141414" textLength="54.8" lengthAdjust="spacingAndGlyphs">1.0%</text>
<text x="45.6" y="635.3" font-size="22.9" text-anchor="start" fill="#141414" textLength="54.8" lengthAdjust="spacingAndGlyphs">0.5%</text>
<text x="45.6" y="718.5" font-size="22.9" text-anchor="start" fill="#141414" textLength="54.8" lengthAdjust="spacingAndGlyphs">0.0%</text>
<text x="1466.7" y="717.6" font-size="23" text-anchor="start" fill="#141414" textLength="26.6" lengthAdjust="spacingAndGlyphs">$0</text>
<text x="1466.7" y="624.8" font-size="23" text-anchor="start" fill="#141414" textLength="89.2" lengthAdjust="spacingAndGlyphs">$10,000</text>
<text x="1466.7" y="532.0" font-size="23" text-anchor="start" fill="#141414" textLength="89.2" lengthAdjust="spacingAndGlyphs">$20,000</text>
<text x="1466.7" y="439.2" font-size="23" text-anchor="start" fill="#141414" textLength="89.2" lengthAdjust="spacingAndGlyphs">$30,000</text>
<text x="1466.7" y="346.4" font-size="23" text-anchor="start" fill="#141414" textLength="89.2" lengthAdjust="spacingAndGlyphs">$40,000</text>
<text x="1466.7" y="253.6" font-size="23" text-anchor="start" fill="#141414" textLength="89.2" lengthAdjust="spacingAndGlyphs">$50,000</text>
<text x="1466.7" y="160.8" font-size="23" text-anchor="start" fill="#141414" textLength="89.2" lengthAdjust="spacingAndGlyphs">$60,000</text>
<text x="466.5" y="35" font-size="24.2" text-anchor="start" fill="#141414" textLength="61.5" lengthAdjust="spacingAndGlyphs">Flows</text>
<text x="534.5" y="35" font-size="24.2" text-anchor="start" fill="#141414" textLength="21.7" lengthAdjust="spacingAndGlyphs">to</text>
<text x="562.8" y="35" font-size="24.2" text-anchor="start" fill="#141414" textLength="39.7" lengthAdjust="spacingAndGlyphs">and</text>
<text x="609.5" y="35" font-size="24.2" text-anchor="start" fill="#141414" textLength="51.7" lengthAdjust="spacingAndGlyphs">from</text>
<text x="667.8" y="35" font-size="24.2" text-anchor="start" fill="#141414" textLength="75.9" lengthAdjust="spacingAndGlyphs">crypto,</text>
<text x="750.3" y="35" font-size="24.2" text-anchor="start" fill="#141414" textLength="74.7" lengthAdjust="spacingAndGlyphs">among</text>
<text x="831.5" y="35" font-size="24.2" text-anchor="start" fill="#141414" textLength="98.5" lengthAdjust="spacingAndGlyphs">investors</text>
<text x="936.5" y="35" font-size="24.2" text-anchor="start" fill="#141414" textLength="22.2" lengthAdjust="spacingAndGlyphs">or</text>
<text x="966.0" y="35" font-size="24.2" text-anchor="start" fill="#141414" textLength="69.7" lengthAdjust="spacingAndGlyphs">crypto</text>
<text x="1042.8" y="35" font-size="24.2" text-anchor="start" fill="#141414" textLength="58.9" lengthAdjust="spacingAndGlyphs">users</text>
<line x1="124" y1="57.4" x2="150" y2="57.4" stroke="#8680b7" stroke-width="3"/>
<line x1="124" y1="88.3" x2="150" y2="88.3" stroke="#b2cf7e" stroke-width="3"/>
<text x="165.2" y="65.5" font-size="21.8" text-anchor="start" fill="#141414" textLength="144.5" lengthAdjust="spacingAndGlyphs">Crypto outflows</text>
<text x="165.2" y="96.4" font-size="21.8" text-anchor="start" fill="#141414" textLength="131.5" lengthAdjust="spacingAndGlyphs">Crypto inflows</text>
<rect x="1285.6" y="80.8" width="23.6" height="16.4" fill="#e5e5e5" stroke="#d1d1d1" stroke-width="1.2"/>
<text x="1326.5" y="96.9" font-size="21.6" text-anchor="start" fill="#141414" textLength="114" lengthAdjust="spacingAndGlyphs">Bitcoin price</text>
<text transform="translate(31.6,532.6) rotate(-90)" font-size="21" fill="#141414" textLength="69.9" lengthAdjust="spacingAndGlyphs">Percent</text>
<text transform="translate(31.6,456.9) rotate(-90)" font-size="21" fill="#141414" textLength="18.8" lengthAdjust="spacingAndGlyphs">of</text>
<text transform="translate(31.6,433.5) rotate(-90)" font-size="21" fill="#141414" textLength="85.8" lengthAdjust="spacingAndGlyphs">estimated</text>
<text transform="translate(31.6,340.9) rotate(-90)" font-size="21" fill="#141414" textLength="65.7" lengthAdjust="spacingAndGlyphs">income</text>
<text transform="translate(1580.1,459.6) rotate(-90)" font-size="21" fill="#141414" textLength="60.0" lengthAdjust="spacingAndGlyphs">Bitcoin</text>
<text transform="translate(1580.1,396.3) rotate(-90)" font-size="21" fill="#141414" textLength="48.1" lengthAdjust="spacingAndGlyphs">price</text>
<text x="24.2" y="805.6" font-size="17.5" text-anchor="start" fill="#3c3c3c" textLength="1507.6" lengthAdjust="spacingAndGlyphs">Note: The plot tracks the rolling weekly volume of crypto transfers measured relative to the average weekly level of take-home income across the sample time period for the active set of</text>
<text x="24.2" y="827.5" font-size="17.5" text-anchor="start" fill="#3c3c3c" textLength="482.4" lengthAdjust="spacingAndGlyphs">individuals with crypto or investment account involvement.</text>
<text x="1198.6" y="857.1" font-size="16.5" text-anchor="start" fill="#5e5e5e" textLength="377.8" lengthAdjust="spacingAndGlyphs">Source: JPMorgan Chase Institute, Coinbase, Nasdaq</text>
</g>
</svg></body></html>
